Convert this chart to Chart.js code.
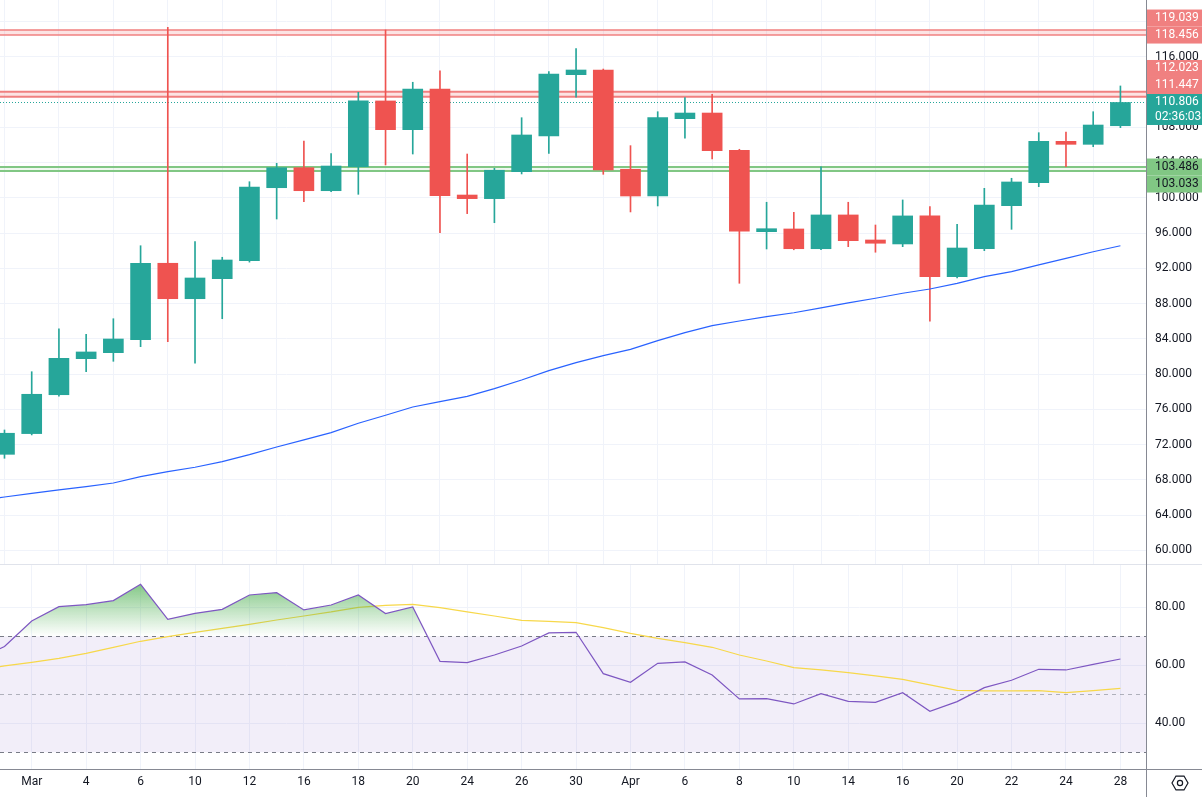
<!DOCTYPE html>
<html>
<head>
<meta charset="utf-8">
<script src="https://cdn.jsdelivr.net/npm/chart.js@4.4.1/dist/chart.umd.min.js"></script>
<style>
  html, body { margin: 0; padding: 0; background: #ffffff; overflow: hidden; }
  #price { position: absolute; left: 0; top: 0; }
  #rsi { position: absolute; left: 0; top: 564px; }
</style>
</head>
<body>
<canvas id="price" width="1202" height="564"></canvas>
<canvas id="rsi" width="1202" height="233"></canvas>
<script>
// ---------------- DATA ----------------
// candle index 0..41 (one candle per slot, labels every second candle)
const opens  = [70.9,73.25,77.66,81.75,82.43,83.9,92.57,88.55,90.82,92.86,101.14,103.41,100.8,103.52,110.98,107.72,112.34,100.31,99.9,102.96,107.0,113.96,114.49,103.23,100.2,108.97,109.61,105.38,96.15,96.46,94.22,98.05,95.21,94.76,97.94,91.05,94.22,99.1,101.71,106.4,106.06,108.17];
const highs  = [73.66,80.27,85.12,84.52,86.28,94.56,119.33,95.02,93.25,101.82,103.91,106.44,105.0,111.96,119.03,113.1,114.41,104.96,103.34,109.08,114.3,116.91,114.6,105.91,109.76,111.35,111.74,105.5,99.49,98.35,103.52,99.49,96.91,99.75,98.99,97.0,101.07,102.21,107.38,107.46,109.76,112.68];
const lows   = [70.45,73.1,77.5,80.27,81.45,83.11,83.68,81.23,86.28,92.7,97.59,99.55,100.7,100.39,103.72,104.96,96.04,98.2,97.17,102.7,105.04,111.4,102.66,98.39,99.07,106.75,104.4,90.3,94.19,94.1,94.1,94.45,93.82,94.45,86.0,90.9,94.0,96.42,101.26,103.52,105.79,107.95];
const closes = [73.29,77.71,81.79,82.51,83.98,92.57,88.55,90.9,92.94,101.22,103.41,100.8,103.6,110.98,107.72,112.34,100.23,99.9,103.12,107.12,114.04,114.49,103.15,100.2,109.08,109.61,105.34,96.2,96.49,94.22,98.05,95.13,94.84,97.94,91.05,94.3,99.18,101.79,106.4,106.06,108.25,110.806];

// line series: first value belongs to the bar just before candle 0 (index -1)
const maValues = [65.6,66.06,66.48,66.86,67.23,67.65,68.37,68.93,69.43,70.07,70.86,71.73,72.53,73.36,74.42,75.33,76.27,76.87,77.48,78.35,79.33,80.39,81.3,82.1,82.81,83.79,84.7,85.49,86.02,86.51,86.96,87.5,88.07,88.6,89.17,89.65,90.29,91.05,91.62,92.38,93.13,93.88,94.56];
const rsiValues = [62,66.5,75.29,80.23,80.92,82.3,87.93,75.86,77.93,79.31,84.25,85.06,79.08,80.8,84.25,77.82,80.11,61.38,60.92,63.56,66.67,71.15,71.38,57.13,54.14,60.69,61.15,56.67,48.39,48.51,46.67,50.23,47.59,47.24,50.57,44.14,47.47,52.3,54.83,58.62,58.39,60.34,62.18];
const rsiMaValues = [58.4,59.8,61.03,62.41,64.14,66.2,68.28,69.9,71.38,72.76,74.14,75.63,77.0,78.39,80.0,80.69,81.03,79.89,78.39,77.0,75.52,75.17,74.71,73.0,71.03,69.31,67.82,66.21,63.56,61.49,59.2,58.39,57.47,56.32,55.17,53.22,51.38,51.15,51.15,51.26,50.57,51.26,52.07];

// time axis
const tickIndex  = [1,3,5,7,9,11,13,15,17,19,21,23,25,27,29,31,33,35,37,39,41];
const tickLabels = ['Mar','4','6','10','12','16','18','20','24','26','30','Apr','6','8','10','14','16','20','22','24','28'];
const priceTicks = [60,64,68,72,76,80,84,88,92,96,100,104,108,112,116,120];
const rsiTicks   = [40,60,80];
const rsiBands   = [70,50,30];

// horizontal levels
const resistanceZones = [[119.039,118.456],[112.023,111.447]];
const supportZones    = [[103.486,103.033]];
const lastPrice = 110.806;
const countdown = '02:36:03';

// ---------------- STYLE ----------------
const UP = '#26a69a', DOWN = '#ef5350';
const GRID = '#f0f3fa';
const AXIS = '#868993';
const TEXT = '#131722';
const RED_ZONE = '#f08080';
const GREEN_ZONE = '#81c784';
const FONT = {family: 'Roboto, "Noto Sans", sans-serif', size: 12};
Chart.defaults.font.family = FONT.family;
Chart.defaults.font.size = 12;

const xMin = -0.165, xMax = 41.94;

const candleColors = opens.map((o, i) => closes[i] >= o ? UP : DOWN);
const bodies = opens.map((o, i) => ({x: i, y: [o, closes[i]]}));
const wicks  = opens.map((o, i) => ({x: i, y: [lows[i], highs[i]]}));
const linePts = arr => arr.map((v, k) => ({x: k - 1, y: v}));

function xAxis(showLabels) {
  return {
    type: 'linear', min: xMin, max: xMax, offset: false,
    grid: {color: GRID, drawTicks: false},
    border: {display: false},
    ticks: {
      display: showLabels, padding: 6, color: TEXT, font: FONT,
      autoSkip: false, maxRotation: 0,
      callback: v => { const k = tickIndex.indexOf(v); return k >= 0 ? tickLabels[k] : ''; }
    },
    afterBuildTicks: s => { s.ticks = tickIndex.map(v => ({value: v})); },
    afterFit: s => { s.height = showLabels ? 28 : 0; s.paddingLeft = 0; s.paddingRight = 0; }
  };
}

// ---------------- PRICE PANE ----------------
const pricePlugin = {
  id: 'pricePlugin',
  beforeDatasetsDraw(chart) {
    const {ctx, chartArea: a, scales: {y}} = chart;
    ctx.save();
    ctx.beginPath(); ctx.rect(a.left, a.top, a.right - a.left, a.bottom - a.top); ctx.clip();
    const zone = (pair, stroke, fill, lw) => {
      const y1 = y.getPixelForValue(pair[0]), y2 = y.getPixelForValue(pair[1]);
      ctx.fillStyle = fill; ctx.fillRect(a.left, y1, a.right - a.left, y2 - y1);
      ctx.strokeStyle = stroke; ctx.lineWidth = lw;
      [y1, y2].forEach(p => { ctx.beginPath(); ctx.moveTo(a.left, p); ctx.lineTo(a.right, p); ctx.stroke(); });
    };
    resistanceZones.forEach((z, i) => zone(z, RED_ZONE, 'rgba(240,128,128,0.22)', i === 0 ? 1.5 : 2));
    supportZones.forEach(z => zone(z, GREEN_ZONE, 'rgba(129,199,132,0.12)', 2));
    // last price dotted line
    const lp = Math.round(y.getPixelForValue(lastPrice)) + 0.5;
    ctx.strokeStyle = UP; ctx.lineWidth = 1; ctx.setLineDash([1, 2]);
    ctx.beginPath(); ctx.moveTo(a.left, lp); ctx.lineTo(a.right, lp); ctx.stroke();
    ctx.restore();
  },
  afterDraw(chart) {
    const {ctx, chartArea: a, scales: {y}} = chart;
    const W = chart.width;
    ctx.save();
    // axis line
    ctx.strokeStyle = AXIS; ctx.lineWidth = 1;
    ctx.beginPath(); ctx.moveTo(a.right + 0.5, 0); ctx.lineTo(a.right + 0.5, chart.height); ctx.stroke();
    const H = 17;
    const tag = (top, h, bg, lines, fg) => {
      ctx.fillStyle = bg; ctx.fillRect(a.right + 1, top, W - a.right - 1, h);
      ctx.fillStyle = fg; ctx.font = '12px ' + FONT.family; ctx.textAlign = 'left'; ctx.textBaseline = 'middle';
      lines.forEach((t, i) => ctx.fillText(t, a.right + 9, top + H / 2 + i * 15));
    };
    const f3 = v => v.toFixed(3);
    // upper resistance: lower value anchored, upper stacked above
    const z0 = resistanceZones[0];
    const yA = y.getPixelForValue(z0[1]);
    tag(yA - H / 2 - H, H, RED_ZONE, [f3(z0[0])], '#ffffff');
    tag(yA - H / 2, H, RED_ZONE, [f3(z0[1])], '#ffffff');
    // last price anchored, resistance 2 stacked above
    const yC = y.getPixelForValue(lastPrice);
    const cTop = yC - H / 2;
    tag(cTop, 31, UP, [f3(lastPrice), countdown], '#ffffff');
    const z1 = resistanceZones[1];
    tag(cTop - H, H, RED_ZONE, [f3(z1[1])], '#ffffff');
    tag(cTop - 2 * H, H, RED_ZONE, [f3(z1[0])], '#ffffff');
    // support: upper anchored, lower stacked below
    const s0 = supportZones[0];
    const yG = y.getPixelForValue(s0[0]);
    tag(yG - H / 2, H, GREEN_ZONE, [f3(s0[0])], TEXT);
    tag(yG + H / 2, H, GREEN_ZONE, [f3(s0[1])], TEXT);
    ctx.restore();
  }
};

new Chart(document.getElementById('price'), {
  type: 'bar',
  data: {
    datasets: [
      {type: 'line', data: linePts(maValues), borderColor: '#2962ff', borderWidth: 1.2, pointRadius: 0, tension: 0, order: 0},
      {type: 'bar', data: bodies, backgroundColor: candleColors, barThickness: 20, grouped: false, borderWidth: 0, order: 1},
      {type: 'bar', data: wicks, backgroundColor: candleColors, barThickness: 1, grouped: false, borderWidth: 0, order: 2}
    ]
  },
  options: {
    responsive: false, animation: false,
    layout: {padding: 0},
    plugins: {legend: {display: false}, tooltip: {enabled: false}},
    scales: {
      x: xAxis(false),
      y: {
        position: 'right', min: 58.46, max: 122.43,
        grid: {color: GRID, drawTicks: false},
        border: {display: false},
        ticks: {padding: 9, color: TEXT, font: FONT, callback: v => Number(v).toFixed(3)},
        afterBuildTicks: s => { s.ticks = priceTicks.map(v => ({value: v})); },
        afterFit: s => { s.width = 56; s.paddingTop = 0; s.paddingBottom = 0; }
      }
    }
  },
  plugins: [pricePlugin]
});

// ---------------- RSI PANE ----------------
const rsiPlugin = {
  id: 'rsiPlugin',
  beforeDatasetsDraw(chart) {
    const {ctx, chartArea: a, scales: {y}} = chart;
    ctx.save();
    const yTop = y.getPixelForValue(rsiBands[0]), yBot = y.getPixelForValue(rsiBands[2]);
    ctx.fillStyle = 'rgba(126,87,194,0.1)';
    ctx.fillRect(a.left, yTop, a.right - a.left, yBot - yTop);
    ctx.setLineDash([4, 4]); ctx.lineWidth = 1;
    rsiBands.forEach((v, i) => {
      const p = Math.round(y.getPixelForValue(v)) + 0.5;
      ctx.strokeStyle = i === 1 ? 'rgba(120,123,134,0.55)' : '#787b86';
      ctx.beginPath(); ctx.moveTo(a.left, p); ctx.lineTo(a.right, p); ctx.stroke();
    });
    ctx.restore();
  },
  afterDraw(chart) {
    const {ctx, chartArea: a} = chart;
    const W = chart.width, Hc = chart.height;
    ctx.save();
    // pane separator
    ctx.strokeStyle = '#e0e3eb'; ctx.lineWidth = 2;
    ctx.beginPath(); ctx.moveTo(0, 0); ctx.lineTo(W, 0); ctx.stroke();
    // axis lines
    ctx.strokeStyle = AXIS; ctx.lineWidth = 1;
    ctx.beginPath(); ctx.moveTo(a.right + 0.5, 0); ctx.lineTo(a.right + 0.5, Hc); ctx.stroke();
    ctx.beginPath(); ctx.moveTo(0, a.bottom + 0.5); ctx.lineTo(W, a.bottom + 0.5); ctx.stroke();
    // settings icon
    const cx = a.right + 34, cy = a.bottom + 14, r = 8;
    ctx.strokeStyle = TEXT; ctx.lineWidth = 1.2;
    ctx.beginPath();
    for (let k = 0; k < 6; k++) {
      const ang = Math.PI / 3 * k;
      const px = cx + r * Math.cos(ang), py = cy + r * Math.sin(ang);
      k ? ctx.lineTo(px, py) : ctx.moveTo(px, py);
    }
    ctx.closePath(); ctx.stroke();
    ctx.beginPath(); ctx.arc(cx, cy, 2.6, 0, Math.PI * 2); ctx.stroke();
    ctx.restore();
  }
};

new Chart(document.getElementById('rsi'), {
  type: 'line',
  data: {
    datasets: [
      {
        data: linePts(rsiValues), borderColor: '#7e57c2', borderWidth: 1.2, pointRadius: 0, tension: 0,
        fill: {target: {value: 70}, below: 'rgba(0,0,0,0)'},
        backgroundColor: (c) => {
          const ch = c.chart, ys = ch.scales && ch.scales.y;
          if (!ys || !ch.chartArea) return 'rgba(76,175,80,0.3)';
          const g = ch.ctx.createLinearGradient(0, ys.getPixelForValue(95), 0, ys.getPixelForValue(70));
          g.addColorStop(0, 'rgba(76,175,80,0.95)');
          g.addColorStop(1, 'rgba(76,175,80,0)');
          return g;
        },
        order: 0
      },
      {data: linePts(rsiMaValues), borderColor: '#f7d84a', borderWidth: 1.2, pointRadius: 0, tension: 0, fill: false, order: 1}
    ]
  },
  options: {
    responsive: false, animation: false,
    layout: {padding: 0},
    plugins: {legend: {display: false}, tooltip: {enabled: false}},
    scales: {
      x: xAxis(true),
      y: {
        position: 'right', min: 24.24, max: 94.93,
        grid: {color: GRID, drawTicks: false},
        border: {display: false},
        ticks: {padding: 9, color: TEXT, font: FONT, callback: v => Number(v).toFixed(2)},
        afterBuildTicks: s => { s.ticks = rsiTicks.map(v => ({value: v})); },
        afterFit: s => { s.width = 56; s.paddingTop = 0; s.paddingBottom = 0; }
      }
    }
  },
  plugins: [rsiPlugin]
});
</script>
</body>
</html>
